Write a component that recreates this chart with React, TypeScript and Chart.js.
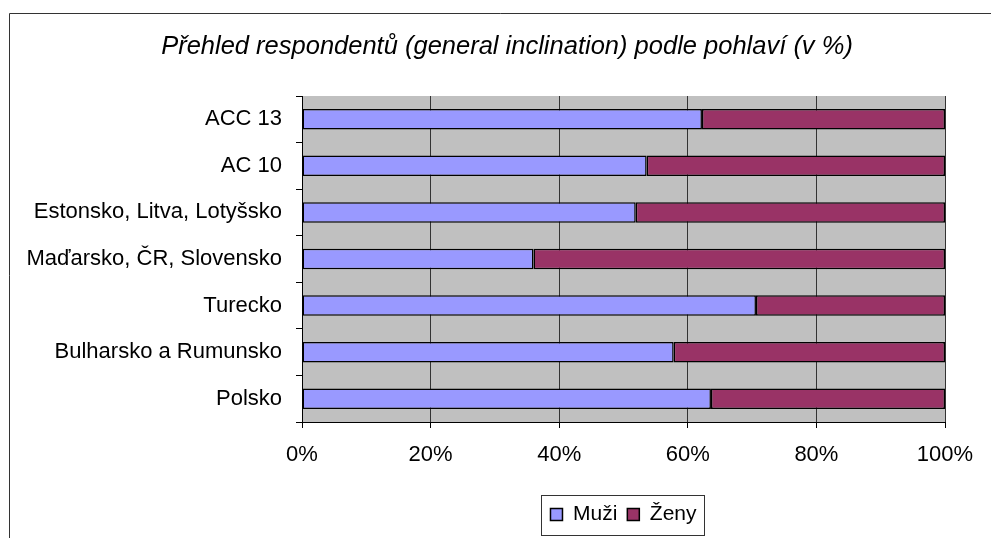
import React, { useEffect, useRef } from 'react';
import { Chart, registerables } from 'chart.js';

Chart.register(...registerables);

const categories = [
  'ACC 13',
  'AC 10',
  'Estonsko, Litva, Lotyšsko',
  'Maďarsko, ČR, Slovensko',
  'Turecko',
  'Bulharsko a Rumunsko',
  'Polsko',
];
const muzi = [62.2, 53.6, 51.9, 36.0, 70.6, 57.8, 63.6];
const zeny = [37.8, 46.4, 48.1, 64.0, 29.4, 42.2, 36.4];
const seriesNames = ['Muži', 'Ženy'];
const titleText = 'Přehled respondentů (general inclination) podle pohlaví (v %)';
const xMin = 0;
const xMax = 100;
const xStep = 20;

const FONT = "'Liberation Sans', Arial, sans-serif";

const decor = {
  id: 'decor',
  beforeDraw(chart: any) {
    const { ctx, chartArea } = chart;
    ctx.save();
    ctx.fillStyle = '#ffffff';
    ctx.fillRect(0, 0, chart.width, chart.height);
    ctx.strokeStyle = '#333333';
    ctx.lineWidth = 1;
    ctx.beginPath();
    ctx.moveTo(9.5, chart.height);
    ctx.lineTo(9.5, 13.5);
    ctx.lineTo(chart.width, 13.5);
    ctx.stroke();
    ctx.fillStyle = '#C0C0C0';
    ctx.fillRect(
      chartArea.left,
      chartArea.top,
      chartArea.right - chartArea.left,
      chartArea.bottom - chartArea.top
    );
    ctx.restore();
  },
  afterDraw(chart: any) {
    const ctx = chart.ctx;
    // title
    ctx.save();
    ctx.fillStyle = '#000000';
    ctx.font = `italic 25.5px ${FONT}`;
    ctx.textAlign = 'center';
    ctx.textBaseline = 'middle';
    ctx.fillText(titleText, 507, 47);
    ctx.restore();
    // legend frame
    const lg = chart.legend;
    if (!lg || !lg.legendHitBoxes || !lg.legendHitBoxes.length) return;
    const hb = lg.legendHitBoxes;
    const first = hb[0];
    const last = hb[hb.length - 1];
    const left = first.left - 9;
    const right = last.left + last.width + 8;
    const mid = first.top + first.height / 2;
    const top = mid - 20;
    ctx.save();
    ctx.strokeStyle = '#333333';
    ctx.lineWidth = 1;
    ctx.strokeRect(Math.round(left) + 0.5, Math.round(top) + 0.5, Math.round(right - left), 40);
    ctx.restore();
  },
};

export default function App() {
  const ref = useRef<HTMLCanvasElement | null>(null);

  useEffect(() => {
    if (!ref.current) return;
    const chart = new Chart(ref.current, {
      type: 'bar',
      data: {
        labels: categories,
        datasets: [
          {
            label: seriesNames[0],
            data: muzi,
            backgroundColor: '#9999FF',
            borderColor: '#000000',
            borderWidth: 1.5,
            borderSkipped: false,
          },
          {
            label: seriesNames[1],
            data: zeny,
            backgroundColor: '#993366',
            borderColor: '#000000',
            borderWidth: 1.5,
            borderSkipped: false,
          },
        ],
      },
      options: {
        indexAxis: 'y',
        animation: false,
        responsive: true,
        maintainAspectRatio: false,
        datasets: {
          bar: {
            categoryPercentage: 1,
            barPercentage: 0.44,
          },
        },
        layout: {
          padding: { left: 10, right: 46, top: 96, bottom: 3 },
        },
        scales: {
          x: {
            type: 'linear',
            stacked: true,
            min: xMin,
            max: xMax,
            ticks: {
              stepSize: xStep,
              color: '#000000',
              padding: 14,
              font: { family: FONT, size: 22 },
              callback: (v: any) => v + '%',
            },
            grid: {
              color: '#333333',
              lineWidth: 1,
              drawTicks: true,
              tickLength: 6,
              tickColor: '#000000',
            },
            border: { color: '#000000', width: 1 },
            afterFit: (scale: any) => {
              scale.height = 72;
            },
          },
          y: {
            type: 'category',
            stacked: true,
            ticks: {
              color: '#000000',
              padding: 14,
              font: { family: FONT, size: 22 },
            },
            grid: {
              offset: true,
              drawOnChartArea: false,
              drawTicks: true,
              tickLength: 6,
              color: '#000000',
              tickColor: '#000000',
            },
            border: { color: '#000000', width: 1 },
            afterFit: (scale: any) => {
              scale.width = 292;
            },
          },
        },
        plugins: {
          title: { display: false },
          legend: {
            display: true,
            position: 'bottom',
            fullSize: false,
            labels: {
              color: '#000000',
              font: { family: FONT, size: 21 },
              boxWidth: 12,
              boxHeight: 12,
              padding: 10,
            },
          },
          tooltip: { enabled: false },
        },
      },
      plugins: [decor],
    } as any);
    return () => chart.destroy();
  }, []);

  return (
    <div
      style={{
        position: 'fixed',
        left: 0,
        top: 0,
        width: 991,
        height: 538,
        background: '#ffffff',
      }}
    >
      <canvas ref={ref} />
    </div>
  );
}
